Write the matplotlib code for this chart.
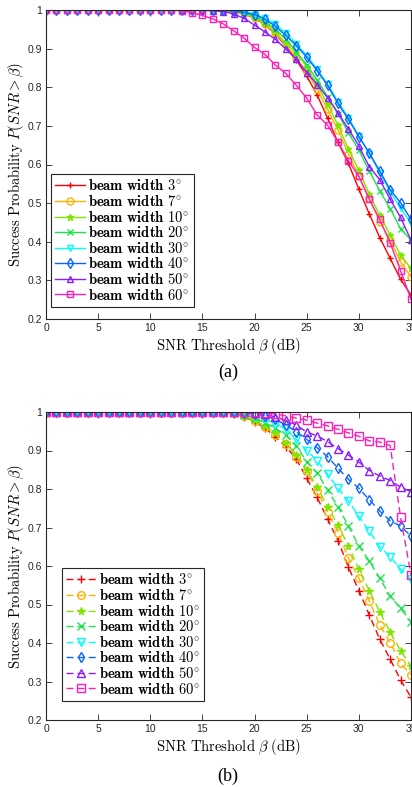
import matplotlib
matplotlib.use("Agg")
import matplotlib.pyplot as plt
import numpy as np
from matplotlib.ticker import FuncFormatter

plt.rcParams['mathtext.fontset'] = 'cm'
plt.rcParams['font.family'] = ['Liberation Sans', 'DejaVu Sans']

# SNR threshold (dB)
snr = list(range(36))

beam_widths = [3, 7, 10, 20, 30, 40, 50, 60]
colors = ['#ff0000', '#ffb300', '#80e600', '#1fe34a', '#00ffff', '#0a64ff', '#8a1cff', '#ff1fb4']
markers = ['+', 'o', '*', 'x', 'v', 'd', '^', 's']

# (a) success probability, solid curves
a_3 = [1, 1, 1, 1, 1, 1, 1, 1, 1, 1, 1, 1, 1, 1, 1, 1, 1, 0.999, 0.996, 0.990, 0.979, 0.962, 0.938, 0.907, 0.871, 0.829, 0.780, 0.720, 0.657, 0.603, 0.536, 0.472, 0.411, 0.357, 0.303, 0.262]
a_7 = [1, 1, 1, 1, 1, 1, 1, 1, 1, 1, 1, 1, 1, 1, 1, 1, 1, 0.999, 0.996, 0.991, 0.980, 0.963, 0.940, 0.910, 0.877, 0.840, 0.795, 0.743, 0.689, 0.627, 0.570, 0.512, 0.452, 0.404, 0.348, 0.309]
a_10 = [1, 1, 1, 1, 1, 1, 1, 1, 1, 1, 1, 1, 1, 1, 1, 1, 1, 0.999, 0.997, 0.992, 0.982, 0.966, 0.943, 0.914, 0.888, 0.853, 0.806, 0.756, 0.702, 0.639, 0.585, 0.523, 0.469, 0.417, 0.365, 0.331]
a_20 = [1, 1, 1, 1, 1, 1, 1, 1, 1, 1, 1, 1, 1, 1, 1, 1, 1, 0.999, 0.998, 0.993, 0.984, 0.970, 0.950, 0.924, 0.892, 0.858, 0.819, 0.776, 0.732, 0.682, 0.637, 0.583, 0.532, 0.486, 0.434, 0.404]
a_30 = [1, 1, 1, 1, 1, 1, 1, 1, 1, 1, 1, 1, 1, 1, 1, 1, 1, 1, 0.999, 0.996, 0.990, 0.979, 0.963, 0.940, 0.913, 0.882, 0.847, 0.808, 0.763, 0.721, 0.674, 0.628, 0.578, 0.530, 0.487, 0.448]
a_40 = [1, 1, 1, 1, 1, 1, 1, 1, 1, 1, 1, 1, 1, 1, 1, 1, 1, 0.999, 0.998, 0.994, 0.988, 0.976, 0.958, 0.934, 0.908, 0.878, 0.843, 0.805, 0.758, 0.717, 0.672, 0.630, 0.583, 0.535, 0.501, 0.458]
a_50 = [1, 1, 1, 1, 1, 1, 1, 1, 1, 1, 1, 1, 1, 1, 1, 0.999, 0.998, 0.996, 0.990, 0.978, 0.961, 0.943, 0.924, 0.899, 0.872, 0.838, 0.807, 0.773, 0.733, 0.692, 0.648, 0.594, 0.561, 0.510, 0.463, 0.404]
a_60 = [1, 1, 1, 1, 1, 1, 1, 1, 1, 1, 1, 1, 1, 0.998, 0.993, 0.986, 0.977, 0.964, 0.946, 0.927, 0.903, 0.885, 0.857, 0.836, 0.805, 0.772, 0.728, 0.702, 0.658, 0.610, 0.569, 0.510, 0.458, 0.397, 0.325, 0.251]

# (b) success probability, dashed curves
b_3 = [1, 1, 1, 1, 1, 1, 1, 1, 1, 1, 1, 1, 1, 1, 1, 1, 1, 1, 0.996, 0.988, 0.975, 0.958, 0.935, 0.910, 0.878, 0.828, 0.778, 0.722, 0.666, 0.597, 0.536, 0.473, 0.410, 0.358, 0.304, 0.259]
b_7 = [1, 1, 1, 1, 1, 1, 1, 1, 1, 1, 1, 1, 1, 1, 1, 1, 1, 1, 0.997, 0.989, 0.977, 0.961, 0.941, 0.917, 0.884, 0.847, 0.795, 0.741, 0.687, 0.620, 0.568, 0.509, 0.448, 0.401, 0.347, 0.317]
b_10 = [1, 1, 1, 1, 1, 1, 1, 1, 1, 1, 1, 1, 1, 1, 1, 1, 1, 1, 0.997, 0.990, 0.978, 0.963, 0.945, 0.920, 0.889, 0.850, 0.805, 0.754, 0.706, 0.652, 0.591, 0.536, 0.481, 0.428, 0.380, 0.340]
b_20 = [1, 1, 1, 1, 1, 1, 1, 1, 1, 1, 1, 1, 1, 1, 1, 1, 1, 1, 0.998, 0.993, 0.985, 0.972, 0.958, 0.940, 0.912, 0.871, 0.842, 0.797, 0.754, 0.704, 0.652, 0.613, 0.568, 0.522, 0.490, 0.455]
b_30 = [1, 1, 1, 1, 1, 1, 1, 1, 1, 1, 1, 1, 1, 1, 1, 1, 1, 1, 0.999, 0.996, 0.990, 0.981, 0.970, 0.955, 0.929, 0.900, 0.874, 0.838, 0.802, 0.769, 0.729, 0.690, 0.650, 0.624, 0.592, 0.566]
b_40 = [1, 1, 1, 1, 1, 1, 1, 1, 1, 1, 1, 1, 1, 1, 1, 1, 1, 1, 1, 0.998, 0.995, 0.990, 0.981, 0.966, 0.949, 0.929, 0.907, 0.884, 0.854, 0.825, 0.802, 0.772, 0.743, 0.717, 0.704, 0.678]
b_50 = [1, 1, 1, 1, 1, 1, 1, 1, 1, 1, 1, 1, 1, 1, 1, 1, 1, 1, 1, 0.999, 0.998, 0.994, 0.987, 0.978, 0.966, 0.948, 0.938, 0.923, 0.905, 0.888, 0.870, 0.848, 0.834, 0.822, 0.805, 0.793]
b_60 = [1, 1, 1, 1, 1, 1, 1, 1, 1, 1, 1, 1, 1, 1, 1, 1, 1, 1, 1, 1, 1, 0.998, 0.995, 0.990, 0.984, 0.979, 0.971, 0.964, 0.955, 0.946, 0.937, 0.925, 0.922, 0.913, 0.727, 0.577]

series_a = [a_3, a_7, a_10, a_20, a_30, a_40, a_50, a_60]
series_b = [b_3, b_7, b_10, b_20, b_30, b_40, b_50, b_60]

fig = plt.figure(figsize=(4.12, 7.87), dpi=100)
ax1 = fig.add_axes([46 / 412, 1 - 319 / 787, 365 / 412, 309 / 787])
ax2 = fig.add_axes([46 / 412, 1 - 720 / 787, 365 / 412, 308 / 787])


def style_axes(ax):
    ax.set_xlim(0, 35)
    ax.set_ylim(0.2, 1)
    ax.set_xticks(np.arange(0, 36, 5))
    ax.set_yticks(np.arange(0.2, 1.01, 0.1))
    ax.yaxis.set_major_formatter(FuncFormatter(lambda v, p: ('%g' % round(v, 1))))
    ax.tick_params(direction='in', length=4, width=0.6, top=True, right=True,
                   labelsize=7.5, colors='#262626', pad=3)
    for s in ax.spines.values():
        s.set_color('#262626')
        s.set_linewidth(0.8)
    ax.set_xlabel(r'$\mathrm{SNR\ Threshold}\ \beta\ \mathrm{(dB)}$', fontsize=10.5, labelpad=2)
    ax.set_ylabel(r'$\mathrm{Success\ Probability}\ P(SNR > \beta)$', fontsize=10.5, labelpad=1)


def marker_kw(m, c):
    if m in ['+', 'x', '*']:
        return dict(marker=m, color=c, markeredgecolor=c)
    return dict(marker=m, color=c, markerfacecolor='none', markeredgecolor=c)


for vals, bw, c, m in zip(series_a, beam_widths, colors, markers):
    ax1.plot(snr, vals, linestyle='-', linewidth=1.0, markersize=5, markeredgewidth=1.0,
             label=r'$\mathbf{beam\ width\ %d^{\circ}}$' % bw, **marker_kw(m, c))

for vals, bw, c, m in zip(series_b, beam_widths, colors, markers):
    ax2.plot(snr, vals, linestyle=(0, (5, 3)), linewidth=1.0, markersize=5.5, markeredgewidth=1.0,
             label=r'$\mathbf{beam\ width\ %d^{\circ}}$' % bw, **marker_kw(m, c))

for ax, anchor in [(ax1, (0.014, 0.039)), (ax2, (0.044, 0.062))]:
    style_axes(ax)
    leg = ax.legend(loc='lower left', bbox_to_anchor=anchor, borderaxespad=0, fontsize=10.5,
                    handlelength=2.0, handletextpad=0.25, labelspacing=0.04, borderpad=0.3,
                    fancybox=False, framealpha=1)
    leg.get_frame().set_edgecolor('#262626')
    leg.get_frame().set_linewidth(0.8)

fig.text(228 / 412, 1 - 372 / 787, '(a)', ha='center', va='center', fontsize=13, family='Liberation Serif')
fig.text(228 / 412, 1 - 776 / 787, '(b)', ha='center', va='center', fontsize=13, family='Liberation Serif')

fig.savefig('out.png', dpi=100)
